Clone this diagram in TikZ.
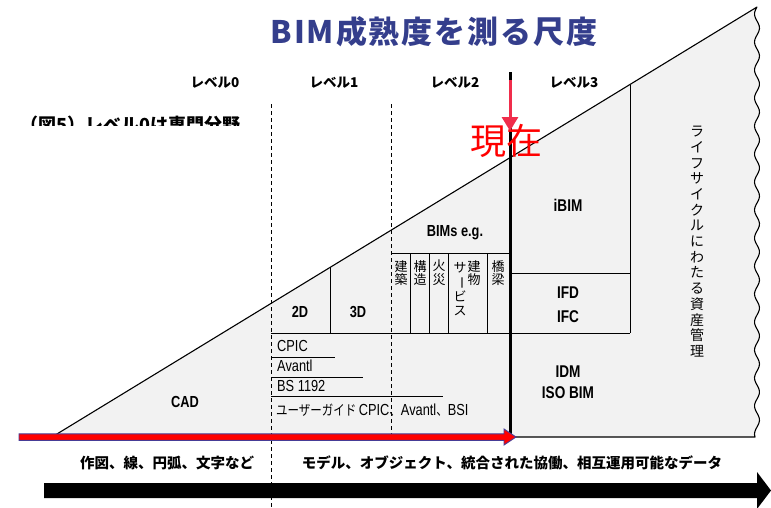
\documentclass[tikz,border=0pt]{standalone}
\usepackage{fontspec}
\usetikzlibrary{arrows.meta}
\setmainfont{Liberation Sans}
\newfontfamily\jp{Noto Sans CJK JP}
\newfontfamily\jpc{Noto Sans CJK JP}[FakeStretch=0.82]
\newfontfamily\cnd{Liberation Sans}[FakeStretch=0.8]
\definecolor{titleblue}{RGB}{52,62,140}
\definecolor{nowred}{RGB}{240,45,75}
\definecolor{trifill}{RGB}{242,242,242}
\definecolor{barnavy}{RGB}{70,60,150}
\begin{document}
\begin{tikzpicture}[x=1pt,y=-1pt,
  ln/.style={line width=0.9pt},
  dsh/.style={line width=1pt,dash pattern=on 4pt off 3pt},
  lvl/.style={font=\jp\bfseries\fontsize{13.5}{16}\selectfont,inner sep=0},
  lab/.style={font=\cnd\bfseries\fontsize{16}{18}\selectfont,inner sep=0},
  labbig/.style={font=\cnd\bfseries\fontsize{17}{19}\selectfont,inner sep=0},
  lat/.style={font=\cnd\fontsize{16}{18}\selectfont,inner sep=0,anchor=west},
  vt/.style={font=\jp\fontsize{13}{13.8}\selectfont,align=center,anchor=north,inner sep=0},
  btm/.style={font=\jp\bfseries\fontsize{14.5}{16}\selectfont,inner sep=0}]
\useasboundingbox (0,0) rectangle (771,507);
\clip (0,0) rectangle (771,507);

% clipped caption fragment
\begin{scope}
\clip (0,100) rectangle (265,125.5);
\node[font=\jp\bfseries\fontsize{18}{20}\selectfont,inner sep=0,anchor=base west] (cap) at (20,131) {（図5）レベル0は専門分野};
\end{scope}

% title
\node[font=\jp\bfseries\addfontfeatures{LetterSpace=6}\fontsize{31}{36}\selectfont,text=titleblue,inner sep=0] (title) at (434,32) {BIM成熟度を測る尺度};

% main triangle
\coordinate (A) at (52,437);
\coordinate (B) at (757,7);
\filldraw[fill=trifill,draw=black,line width=1.1pt,line join=round]
  (A) -- (B) -- plot[domain=7:437,samples=160,smooth] ({757-2.5*sin((\x-7)*12.857)},\x) -- cycle;

% inner structure
\draw[ln] (330,267.4) -- (330,333);
\draw[ln] (271,333) -- (630,333);
\draw[ln] (630,84.5) -- (630,333);
\draw[ln] (510,273) -- (630,273);
\draw[ln] (391,253) -- (510,253);
\foreach \xx in {410,429,448,487} \draw[ln] (\xx,253) -- (\xx,333);
\draw[ln] (271,357) -- (335,357);
\draw[ln] (271,377) -- (363,377);
\draw[ln] (271,396) -- (443,396);

% dashed level boundaries
\draw[dsh] (271,104) -- (271,507);
\draw[dsh] (391,104) -- (391,437);
% current level boundary
\draw[line width=3pt] (510,72) -- (510,437);

% level labels
\node[lvl] (lv0) at (215,83) {レベル0};
\node[lvl] (lv1) at (334,83) {レベル1};
\node[lvl] (lv2) at (455,83) {レベル2};
\node[lvl] (lv3) at (574,83) {レベル3};

% labels inside
\node[lab] (cad) at (185,402) {CAD};
\node[lab] (d2) at (300,312) {2D};
\node[lab] (d3) at (358,312) {3D};
\node[lab] (bims) at (455,233) {BIMs e.g.};
\node[vt] (v1) at (401,260) {建\\築};
\node[vt] (v2) at (420,260) {構\\造};
\node[vt] (v3) at (439,260) {火\\災};
\node[vt] (v4) at (474,260) {建\\物};
\node[vt] (v5) at (460,262) {サ\\\rotatebox[origin=c]{-90}{ー}\\ビ\\ス};
\node[vt] (v6) at (498,260) {橋\\梁};

\node[lat] (cpic) at (277,346) {CPIC};
\node[lat] (avantl) at (277,366) {Avantl};
\node[lat] (bs) at (277,386) {BS 1192};
\node[lat,font=\jpc\fontsize{14}{16}\selectfont] (guide) at (276,410) {ユーザーガイド {\cnd\fontsize{16}{18}\selectfont CPIC}、{\cnd\fontsize{16}{18}\selectfont Avantl}、{\cnd\fontsize{16}{18}\selectfont BSI}};

\node[labbig] (ibim) at (568,205) {iBIM};
\node[labbig] (ifd) at (568,293) {IFD};
\node[labbig] (ifc) at (568,317) {IFC};
\node[labbig] (idm) at (568,372) {IDM};
\node[labbig] (iso) at (568,393) {ISO BIM};

\node[font=\jp\fontsize{14}{15.7}\selectfont,align=center,anchor=north,inner sep=0] (life) at (697,126)
  {ラ\\イ\\フ\\サ\\イ\\ク\\ル\\に\\わ\\た\\る\\資\\産\\管\\理};

% now marker
\node[font=\jp\fontsize{36}{40}\selectfont,text=red,inner sep=0] (now) at (506,141) {現在};
\coordinate (nowtop) at (510,80);
\coordinate (nowtip) at (510,131);
\draw[nowred,line width=3pt,-{Triangle[width=16pt,length=14pt]}] (nowtop) -- (nowtip);

% bottom texts
\node[btm] (t0) at (167,463) {作図、線、円弧、文字など};
\node[btm] (t1) at (512,463) {モデル、オブジェクト、統合された協働、相互運用可能なデータ};

% red time arrow
\filldraw[fill=red,draw=barnavy,line width=0.9pt,line join=miter]
  (19,433.8) -- (504,433.8) -- (504,429) -- (516,437) -- (504,445) -- (504,440.4) -- (19,440.4) -- cycle;

% black progress arrow
\fill[black] (44,483) -- (757,483) -- (757,472) -- (771,490.5) -- (757,509) -- (757,498) -- (44,498) -- cycle;
\end{tikzpicture}
\end{document}
